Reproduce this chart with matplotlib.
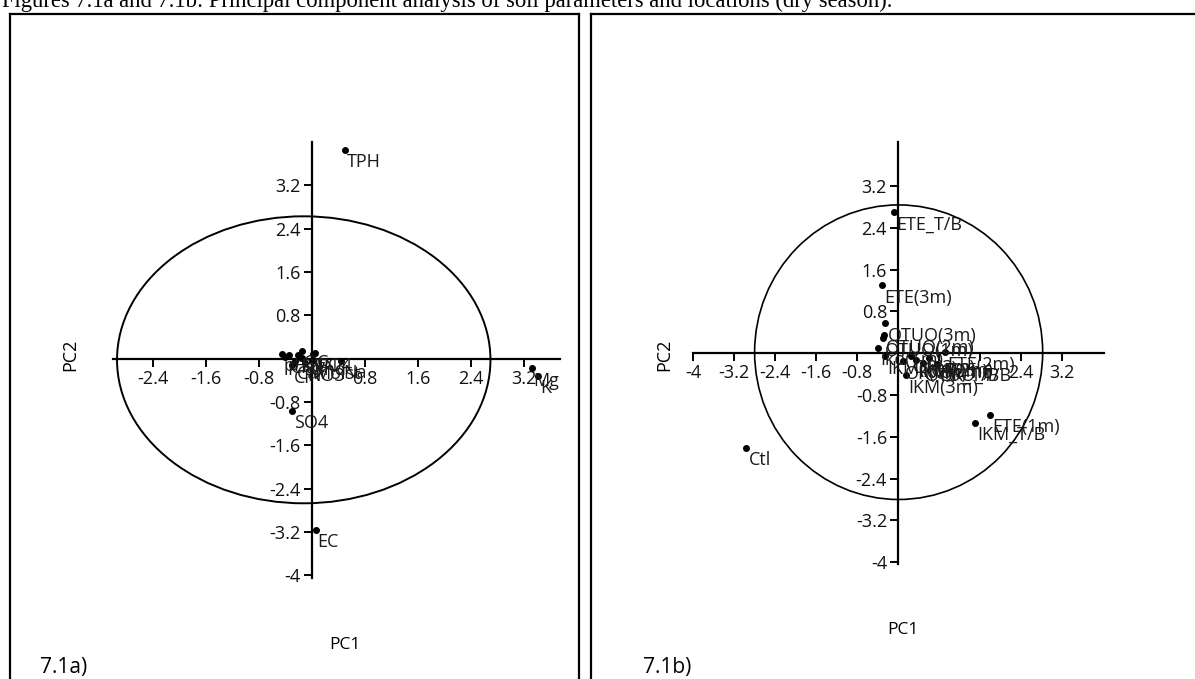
import matplotlib
matplotlib.use("Agg")
import matplotlib.pyplot as plt
from matplotlib.patches import Ellipse
from matplotlib.lines import Line2D

plt.rcParams['font.family'] = ['Open Sans', 'DejaVu Sans']

TITLE = "Figures 7.1a and 7.1b: Principal component analysis of soil parameters and locations (dry season)."

# 7.1a - soil parameters (PC1, PC2)
param_names = ["TPH", "EC", "SO4", "Mg", "K", "Na", "Sand", "Cl",
               "pH", "Clay", "Silt", "OC", "TN", "P", "Ca", "NO3", "PO4", "Moist"]
param_pc1 = [0.50, 0.06, -0.30, 3.32, 3.42, 0.45, -0.15, -0.30,
             -0.45, -0.35, -0.20, -0.15, 0.02, -0.40, -0.25, -0.10, 0.05, 0.00]
param_pc2 = [3.86, -3.16, -0.96, -0.18, -0.31, -0.04, 0.02, -0.12,
             0.09, 0.06, 0.07, 0.15, 0.08, 0.03, -0.05, -0.08, 0.10, -0.05]

# 7.1b - locations (PC1, PC2)
loc_names = ["Ctl", "ETE(1m)", "ETE(2m)", "ETE(3m)", "ETE_T/B",
             "IKM(1m)", "IKM(2m)", "IKM(3m)", "IKM_T/B",
             "OTUO(1m)", "OTUO(2m)", "OTUO(3m)", "OTUO_T/B",
             "OR(1m)", "OR(2m)", "OR(3m)", "OR_T/B", "Iko(1m)"]
loc_pc1 = [-2.96, 1.79, 0.91, -0.31, -0.08,
           -0.25, 0.35, 0.16, 1.50,
           -0.29, -0.27, -0.25, 0.49,
           0.10, 0.60, 0.25, 0.75, -0.39]
loc_pc2 = [-1.81, -1.18, 0.02, 1.30, 2.70,
           -0.06, -0.12, -0.42, -1.33,
           0.29, 0.34, 0.57, -0.19,
           -0.15, -0.10, -0.05, -0.20, 0.10]

ticks_a_x = [-2.4, -1.6, -0.8, 0.8, 1.6, 2.4, 3.2]
ticks_b_x = [-4, -3.2, -2.4, -1.6, -0.8, 0.8, 1.6, 2.4, 3.2]
ticks_y = [-4, -3.2, -2.4, -1.6, -0.8, 0.8, 1.6, 2.4, 3.2]

FS = 13


def fmt(v):
    return f"{v:g}"


def style_axes(ax, xt, yt):
    for s in ["top", "right"]:
        ax.spines[s].set_visible(False)
    ax.spines["left"].set_position(("data", 0))
    ax.spines["bottom"].set_position(("data", 0))
    ax.spines["left"].set_linewidth(1.6)
    ax.spines["bottom"].set_linewidth(1.6)
    ax.set_xticks(xt)
    ax.set_xticklabels([fmt(v) for v in xt])
    ax.set_yticks(yt)
    ax.set_yticklabels([fmt(v) for v in yt])
    ax.tick_params(direction="out", length=6, width=1.4, labelsize=FS, pad=2,
                   labelcolor="#111111")
    ax.patch.set_alpha(0.0)


def draw_points(ax, xs, ys, names):
    ax.plot(xs, ys, "o", color="black", markersize=4, linestyle="none")
    for x, y, n in zip(xs, ys, names):
        ax.annotate(n, (x, y), xytext=(1.5, -2.5), textcoords="offset points",
                    ha="left", va="top", fontsize=FS, color="#1a1a1a")


fig = plt.figure(figsize=(11.95, 6.79), dpi=100)

# left: 7.1a
ax1 = fig.add_axes([0.0946, 0.1487, 0.374, 0.642])
ax1.set_xlim(-3.0, 3.75)
ax1.set_ylim(-4.05, 4.0)
style_axes(ax1, ticks_a_x, ticks_y)
ax1.add_patch(Ellipse((-0.12, -0.02), 5.64, 5.3, fill=False, lw=1.4, color="black"))
draw_points(ax1, param_pc1, param_pc2, param_names)

# right: 7.1b
ax2 = fig.add_axes([0.580, 0.169, 0.344, 0.6215])
ax2.set_xlim(-4.0, 4.02)
ax2.set_ylim(-4.04, 4.04)
style_axes(ax2, ticks_b_x, ticks_y)
ax2.add_patch(Ellipse((0.01, 0.02), 5.62, 5.64, fill=False, lw=1.2, color="black"))
draw_points(ax2, loc_pc1, loc_pc2, loc_names)

# axis titles and panel tags
fig.text(0.0586, 0.477, "PC2", rotation=90, ha="center", va="center", fontsize=FS)
fig.text(0.556, 0.477, "PC2", rotation=90, ha="center", va="center", fontsize=FS)
fig.text(345 / 1195, 1 - 645 / 679, "PC1", ha="center", va="center", fontsize=12.5)
fig.text(903 / 1195, 1 - 630 / 679, "PC1", ha="center", va="center", fontsize=12.5)
fig.text(40 / 1195, 1 - 667 / 679, "7.1a)", ha="left", va="center", fontsize=15)
fig.text(643 / 1195, 1 - 667 / 679, "7.1b)", ha="left", va="center", fontsize=15)

# caption (cut at top of page) and frame boxes
fig.text(2 / 1195, 1 - 7.5 / 679, TITLE, ha="left", va="baseline",
         fontsize=16.3, family="Liberation Serif")

W, H = 1195.0, 679.0
box_lines = [
    ([10, 10], [14, 690]), ([10, 579], [14, 14]), ([579, 579], [14, 690]),
    ([591, 591], [14, 690]), ([591, 1200], [14, 14]),
]
for xs, ys in box_lines:
    fig.add_artist(Line2D([x / W for x in xs], [1 - y / H for y in ys],
                          color="black", lw=1.6, transform=fig.transFigure))

fig.savefig("out.png", dpi=100)
